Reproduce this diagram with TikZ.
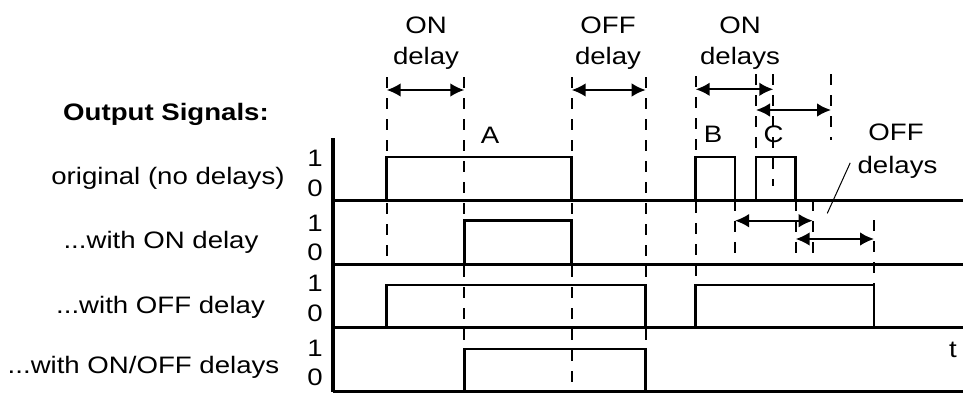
\documentclass[tikz,border=0pt]{standalone}
\usepackage{fontspec}
\setmainfont{Liberation Sans}[FakeStretch=1.16]
\usetikzlibrary{arrows.meta}
\usetikzlibrary{math}

\tikzset{
  txt/.style={inner sep=0pt, anchor=base, font=\fontsize{11.9}{14}\selectfont},
  rowline/.style={line width=1.5pt},
  sigline/.style={line width=1.35pt},
  guide/.style={line width=1pt, dash pattern=on 5.5pt off 5pt},
  dspan/.style={line width=1pt, {Latex[length=7pt,width=6.8pt]}-{Latex[length=7pt,width=6.8pt]}},
  leader/.style={line width=0.5pt}
}

\begin{document}
\begin{tikzpicture}[x=0.5pt,y=-0.5pt]
\tikzmath{
\tA=386.7; \tB=464.3; \tC=571.7; \tD=645.7;
\tE=695.7; \tF=735; \tG=756; \tH=773.3;
\tI=795.7; \tJ=812.7; \tK=831; \tL=874;
}
\useasboundingbox (0,0) rectangle (963,396);

% guides
\draw[guide] (\tA,77) -- (\tA,264);
\draw[guide] (\tB,77) -- (\tB,391);
\draw[guide] (\tC,77) -- (\tC,391);
\draw[guide] (\tD,77) -- (\tD,391);
\draw[guide] (\tE,76) -- (\tE,285);
\draw[guide] (\tG,74) -- (\tG,157);
\draw[guide] (\tH,74) -- (\tH,186);
\draw[guide] (\tK,74) -- (\tK,140);
\draw[guide] (\tF,200) -- (\tF,264);
\draw[guide] (\tI,200) -- (\tI,264);
\draw[guide] (\tJ,200) -- (\tJ,264);
\draw[guide] (\tL,220) -- (\tL,285);

% axes
\draw[line width=2pt] (333.3,138) -- (333.3,392.3);
\foreach \y in {200,264,327.7,391.5}
  \draw[rowline] (333.3,\y) -- (963,\y);

% signals
\draw[sigline] (\tA,200) -- (\tA,157) -- (\tC,157) -- (\tC,200);
\draw[sigline] (\tE,200) -- (\tE,157) -- (\tF,157) -- (\tF,200);
\draw[sigline] (\tG,200) -- (\tG,157) -- (\tI,157) -- (\tI,200);
\draw[sigline] (\tB,264) -- (\tB,220.7) -- (\tC,220.7) -- (\tC,264);
\draw[sigline] (\tA,327.7) -- (\tA,285) -- (\tD,285) -- (\tD,327.7);
\draw[sigline] (\tE,327.7) -- (\tE,285) -- (\tL,285) -- (\tL,327.7);
\draw[sigline] (\tB,391.5) -- (\tB,349) -- (\tD,349) -- (\tD,391.5);

% delays
\draw[dspan] (\tA,90) -- (\tB,90);
\draw[dspan] (\tC,90) -- (\tD,90);
\draw[dspan] (\tE,89.3) -- (\tH,89.3);
\draw[dspan] (\tG,110) -- (\tK,110);
\draw[dspan] (\tF,220.7) -- (\tJ,220.7);
\draw[dspan] (\tI,239) -- (\tL,239);

% levels
\foreach \hi/\lo/\n in {166/196/1, 231.7/260/2, 291.7/321.7/3, 356.7/385/4} {
  \node[txt] (one\n) at (315,\hi) {1};
  \node[txt] (zero\n) at (315,\lo) {0};
}

% labels
\node[txt,font=\fontsize{11.9}{14}\selectfont\bfseries] (title) at (166,120) {Output Signals:};
\node[txt] (orig) at (168,184) {original (no delays)};
\node[txt] (withon) at (161,248) {...with ON delay};
\node[txt] (withoff) at (160.5,313) {...with OFF delay};
\node[txt] (withboth) at (143.5,373) {...with ON/OFF delays};

\node[txt] (onA) at (426,33) {ON};
\node[txt] (onB) at (426,64) {delay};
\node[txt] (offA) at (608,33) {OFF};
\node[txt] (offB) at (608,64) {delay};
\node[txt] (onsA) at (740,33) {ON};
\node[txt] (onsB) at (740,64) {delays};
\node[txt] (pulseA) at (490,143) {A};
\node[txt] (pulseB) at (713,142) {B};
\node[txt] (pulseC) at (773.5,142) {C};
\node[txt] (offdA) at (896,140) {OFF};
\node[txt] (offdB) at (897.5,173) {delays};
\node[txt] (time) at (953,357) {t};

\coordinate (offtip) at (827.3,213.3);
\draw[leader] ([xshift=-3.5pt,yshift=2pt]offdB.west) -- (offtip);
\end{tikzpicture}
\end{document}
